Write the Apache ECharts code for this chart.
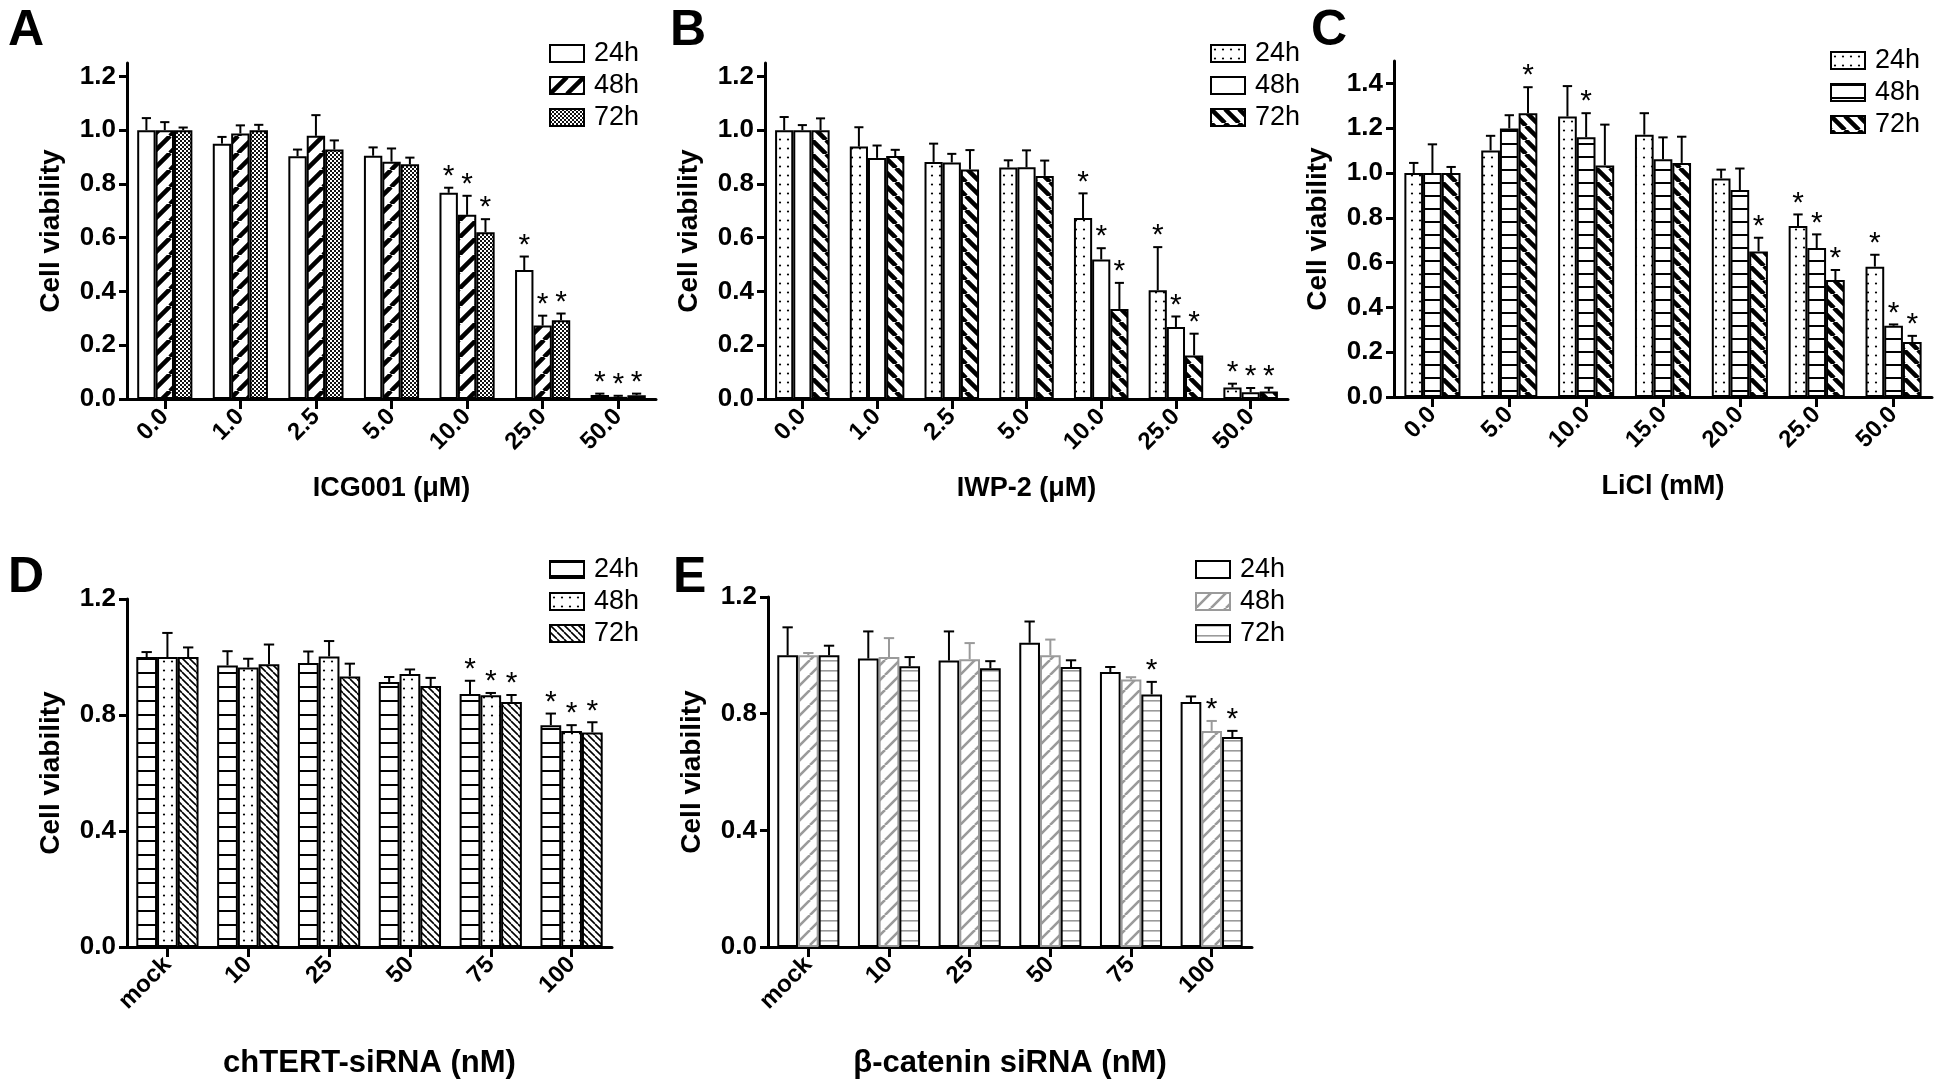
<!DOCTYPE html>
<html><head><meta charset="utf-8">
<script src="https://cdn.jsdelivr.net/npm/echarts@6/dist/echarts.min.js"></script>
<style>html,body{margin:0;padding:0;background:#fff}#c{width:1942px;height:1090px}</style>
</head><body><div id="c"></div>
<script>
// ---------------- DATA ----------------
const catsA = ['0.0','1.0','2.5','5.0','10.0','25.0','50.0'];
const A24 = [1.0, 0.95, 0.903, 0.905, 0.767, 0.48, 0.015];
const A24e = [0.045, 0.025, 0.025, 0.031, 0.019, 0.05, 0.005];
const A48 = [1.0, 0.988, 0.979, 0.883, 0.685, 0.273, 0.008];
const A48e = [0.03, 0.03, 0.077, 0.049, 0.071, 0.037, 0.004];
const A72 = [1.0, 1.0, 0.928, 0.873, 0.62, 0.293, 0.014];
const A72e = [0.01, 0.02, 0.034, 0.025, 0.049, 0.025, 0.006];
const A24s = [0,0,0,0,1,1,1];
const A48s = [0,0,0,0,1,1,1];
const A72s = [0,0,0,0,1,1,1];

const catsB = ['0.0','1.0','2.5','5.0','10.0','25.0','50.0'];
const B24 = [1.0, 0.939, 0.882, 0.861, 0.673, 0.405, 0.043];
const B24e = [0.049, 0.072, 0.068, 0.027, 0.092, 0.16, 0.014];
const B48 = [1.0, 0.897, 0.88, 0.862, 0.519, 0.268, 0.025];
const B48e = [0.019, 0.046, 0.032, 0.063, 0.042, 0.039, 0.016];
const B72 = [1.0, 0.904, 0.854, 0.83, 0.335, 0.162, 0.028];
const B72e = [0.044, 0.023, 0.072, 0.057, 0.097, 0.081, 0.014];
const B24s = [0,0,0,0,1,1,1];
const B48s = [0,0,0,0,1,1,1];
const B72s = [0,0,0,0,1,1,1];

const catsC = ['0.0','5.0','10.0','15.0','20.0','25.0','50.0'];
const C24 = [1.0, 1.101, 1.252, 1.171, 0.976, 0.763, 0.582];
const C24e = [0.045, 0.065, 0.136, 0.096, 0.039, 0.052, 0.053];
const C48 = [1.0, 1.199, 1.16, 1.061, 0.924, 0.665, 0.318];
const C48e = [0.128, 0.059, 0.107, 0.098, 0.096, 0.061, 0.006];
const C72 = [1.0, 1.267, 1.034, 1.045, 0.65, 0.522, 0.245];
const C72e = [0.027, 0.116, 0.182, 0.117, 0.061, 0.045, 0.028];
const C24s = [0,0,0,0,0,1,1];
const C48s = [0,0,1,0,0,1,1];
const C72s = [0,1,0,0,1,1,1];

const catsD = ['mock','10','25','50','75','100'];
const D24 = [1.0, 0.971, 0.979, 0.914, 0.872, 0.765];
const D24e = [0.017, 0.049, 0.04, 0.017, 0.046, 0.04];
const D48 = [1.0, 0.964, 1.002, 0.941, 0.868, 0.745];
const D48e = [0.083, 0.03, 0.053, 0.016, 0.008, 0.02];
const D72 = [1.0, 0.975, 0.933, 0.9, 0.845, 0.74];
const D72e = [0.033, 0.068, 0.044, 0.028, 0.024, 0.035];
const D24s = [0,0,0,0,1,1];
const D48s = [0,0,0,0,1,1];
const D72s = [0,0,0,0,1,1];

const catsE = ['mock','10','25','50','75','100'];
const E24 = [1.0, 0.989, 0.982, 1.043, 0.943, 0.84];
const E24e = [0.096, 0.093, 0.1, 0.073, 0.017, 0.019];
const E48 = [1.0, 0.994, 0.987, 1.0, 0.917, 0.741];
const E48e = [0.008, 0.065, 0.055, 0.054, 0.008, 0.034];
const E72 = [1.0, 0.963, 0.956, 0.96, 0.866, 0.72];
const E72e = [0.033, 0.031, 0.024, 0.023, 0.043, 0.021];
const E24s = [0,0,0,0,0,0];
const E48s = [0,0,0,0,0,1];
const E72s = [0,0,0,0,1,1];

const timeNames = ['24h','48h','72h'];
const ticksABC = [0, 0.2, 0.4, 0.6, 0.8, 1.0, 1.2];
const ticksC = [0, 0.2, 0.4, 0.6, 0.8, 1.0, 1.2, 1.4];
const ticksDE = [0, 0.4, 0.8, 1.2];

const xTitles = ['ICG001 (\u03bcM)', 'IWP-2 (\u03bcM)', 'LiCl (mM)', 'chTERT-siRNA (nM)', '\u03b2-catenin siRNA (nM)'];
const yTitle = 'Cell viability';

// ---------------- STYLES ----------------
const FONT = 'Arial, "Liberation Sans", Helvetica, sans-serif';

function pat(w, h, draw) {
  const cv = document.createElement('canvas');
  cv.width = w; cv.height = h;
  const ctx = cv.getContext('2d');
  ctx.fillStyle = '#fff'; ctx.fillRect(0, 0, w, h);
  draw(ctx, w, h);
  return { image: cv, repeat: 'repeat' };
}
function fwd(s, lw, col) {
  return pat(s, s, (c) => { c.strokeStyle = col; c.lineWidth = lw; c.beginPath();
    for (let k = -1; k <= 1; k++) { c.moveTo(k * s, s); c.lineTo(k * s + s, 0); } c.stroke(); });
}
function back(s, lw, col) {
  return pat(s, s, (c) => { c.strokeStyle = col; c.lineWidth = lw; c.beginPath();
    for (let k = -1; k <= 1; k++) { c.moveTo(k * s, 0); c.lineTo(k * s + s, s); } c.stroke(); });
}
function dots(w, h, r) {
  return pat(w, h, (c) => { c.fillStyle = '#000'; c.beginPath(); c.arc(w / 2, h / 2, r, 0, Math.PI * 2); c.fill(); });
}
function hlines(p, lw, col) {
  return pat(4, p, (c) => { c.fillStyle = col; c.fillRect(0, 0, 4, lw); });
}
const checker = pat(4, 4, (c) => { c.fillStyle = '#111'; c.fillRect(0, 0, 2, 2); c.fillRect(2, 2, 2, 2); });
const WHITE = '#ffffff';

const panels = [
  { key: 'A', cats: catsA, vals: [A24, A48, A72], errs: [A24e, A48e, A72e], stars: [A24s, A48s, A72s],
    fills: [WHITE, fwd(17, 4.5, '#000'), checker], borders: ['#000', '#000', '#000'], ecol: ['#000', '#000', '#000'],
    grid: { left: 127, top: 63, width: 529, height: 336 }, max: 1.25, ticks: ticksABC, gap: 0.27,
    legend: { left: 549, top: 40 }, nameGap: 76, titleSize: 27 },
  { key: 'B', cats: catsB, vals: [B24, B48, B72], errs: [B24e, B48e, B72e], stars: [B24s, B48s, B72s],
    fills: [dots(8, 9, 1.1), WHITE, back(14, 4.5, '#000')], borders: ['#000', '#000', '#000'], ecol: ['#000', '#000', '#000'],
    grid: { left: 765, top: 63, width: 523, height: 336 }, max: 1.25, ticks: ticksABC, gap: 0.27,
    legend: { left: 1210, top: 40 }, nameGap: 76, titleSize: 27 },
  { key: 'C', cats: catsC, vals: [C24, C48, C72], errs: [C24e, C48e, C72e], stars: [C24s, C48s, C72s],
    fills: [dots(8, 9, 1.1), hlines(13, 2, '#000'), back(14, 4.5, '#000')], borders: ['#000', '#000', '#000'], ecol: ['#000', '#000', '#000'],
    grid: { left: 1394, top: 61, width: 538, height: 336 }, max: 1.5, ticks: ticksC, gap: 0.27,
    legend: { left: 1830, top: 47 }, nameGap: 76, titleSize: 27 },
  { key: 'D', cats: catsD, vals: [D24, D48, D72], errs: [D24e, D48e, D72e], stars: [D24s, D48s, D72s],
    fills: [hlines(14, 2, '#000'), dots(8, 9, 1.1), back(7, 1.6, '#000')], borders: ['#000', '#000', '#000'], ecol: ['#000', '#000', '#000'],
    grid: { left: 127, top: 599, width: 485, height: 348 }, max: 1.2, ticks: ticksDE, gap: 0.23,
    legend: { left: 549, top: 556 }, nameGap: 101, titleSize: 31 },
  { key: 'E', cats: catsE, vals: [E24, E48, E72], errs: [E24e, E48e, E72e], stars: [E24s, E48s, E72s],
    fills: [WHITE, fwd(15, 2.6, '#9a9a9a'), hlines(10, 1.6, '#9a9a9a')], borders: ['#000', '#9a9a9a', '#000'], ecol: ['#000', '#9a9a9a', '#000'],
    grid: { left: 768, top: 597, width: 484, height: 350 }, max: 1.2, ticks: ticksDE, gap: 0.23,
    legend: { left: 1195, top: 556 }, nameGap: 101, titleSize: 31 }
];

function errRender(k, gap, color) {
  return function (params, api) {
    const i = api.value(0), v = api.value(1), e = api.value(2), s = api.value(3);
    const base = api.coord([i, v]);
    const top = api.coord([i, v + e]);
    const band = api.size([1, 0])[0];
    const bw = band * (1 - gap) / 3;
    const x = base[0] - 1.5 * bw + (k + 0.5) * bw;
    const cap = bw * 0.5;
    const children = [
      { type: 'line', shape: { x1: x, y1: base[1], x2: x, y2: top[1] }, style: { stroke: color, lineWidth: 2 } },
      { type: 'line', shape: { x1: x - cap / 2, y1: top[1], x2: x + cap / 2, y2: top[1] }, style: { stroke: color, lineWidth: 2 } }
    ];
    if (s) children.push({ type: 'text', style: { text: '*', x: x, y: top[1] + 4, align: 'center', verticalAlign: 'bottom', font: '30px ' + FONT, fill: '#000' } });
    return { type: 'group', children: children };
  };
}

const grids = [], xAxes = [], yAxes = [], series = [], legends = [], graphics = [];
panels.forEach((p, gi) => {
  grids.push(p.grid);
  xAxes.push({
    type: 'category', gridIndex: gi, data: p.cats,
    axisLine: { show: true, lineStyle: { color: '#000', width: 3 } },
    axisTick: { show: true, alignWithLabel: true, length: 10, lineStyle: { color: '#000', width: 3 } },
    axisLabel: { rotate: 45, fontSize: 24, fontWeight: 'bold', color: '#000', fontFamily: FONT, margin: 14, interval: 0 },
    splitLine: { show: false },
    name: xTitles[gi], nameLocation: 'middle', nameGap: p.nameGap, nameMoveOverlap: false,
    nameTextStyle: { fontSize: p.titleSize, fontWeight: 'bold', color: '#000', fontFamily: FONT }
  });
  yAxes.push({
    type: 'value', gridIndex: gi, min: 0, max: p.max, interval: p.ticks[1] - p.ticks[0],
    axisLine: { show: true, lineStyle: { color: '#000', width: 3 } },
    axisTick: { show: true, length: 8, customValues: p.ticks, lineStyle: { color: '#000', width: 3 } },
    axisLabel: { customValues: p.ticks, formatter: (v) => v.toFixed(1), fontSize: 26, fontWeight: 'bold', color: '#000', fontFamily: FONT, margin: 11 },
    splitLine: { show: false },
    name: yTitle, nameLocation: 'middle', nameGap: 62, nameMoveOverlap: false,
    nameTextStyle: { fontSize: 28, fontWeight: 'bold', color: '#000', fontFamily: FONT }
  });
  const names = timeNames.map((t) => p.key + '|' + t);
  for (let k = 0; k < 3; k++) {
    series.push({
      type: 'bar', name: names[k], xAxisIndex: gi, yAxisIndex: gi, data: p.vals[k],
      barGap: '0%', barCategoryGap: (p.gap * 100) + '%',
      itemStyle: { color: p.fills[k], borderColor: p.borders[k], borderWidth: 2 },
      emphasis: { disabled: true }, silent: true, z: 2
    });
  }
  for (let k = 0; k < 3; k++) {
    series.push({
      type: 'custom', xAxisIndex: gi, yAxisIndex: gi, clip: false, silent: true, z: 3,
      renderItem: errRender(k, p.gap, p.ecol[k]),
      data: p.vals[k].map((v, i) => [i, v, p.errs[k][i], p.stars[k][i]])
    });
  }
  legends.push({
    orient: 'vertical', left: p.legend.left, top: p.legend.top, padding: 0,
    itemWidth: 34, itemHeight: 17, itemGap: 5, icon: 'rect', selectedMode: false,
    data: names, formatter: (n) => n.split('|')[1],
    itemStyle: { borderWidth: 2 },
    textStyle: { fontSize: 27, color: '#000', fontFamily: FONT, lineHeight: 26, padding: [0, 0, 0, 5] }
  });
  graphics.push({
    type: 'text', x: [8, 670, 1311, 8, 673][gi], y: [6, 6, 6, 553, 553][gi],
    style: { text: p.key, font: 'bold 50px ' + FONT, fill: '#000', verticalAlign: 'top' }
  });
});

const chart = echarts.init(document.getElementById('c'), null, { renderer: 'canvas' });
chart.setOption({
  animation: false,
  backgroundColor: '#fff',
  grid: grids, xAxis: xAxes, yAxis: yAxes, series: series, legend: legends, graphic: graphics
});
</script>
</body></html>
